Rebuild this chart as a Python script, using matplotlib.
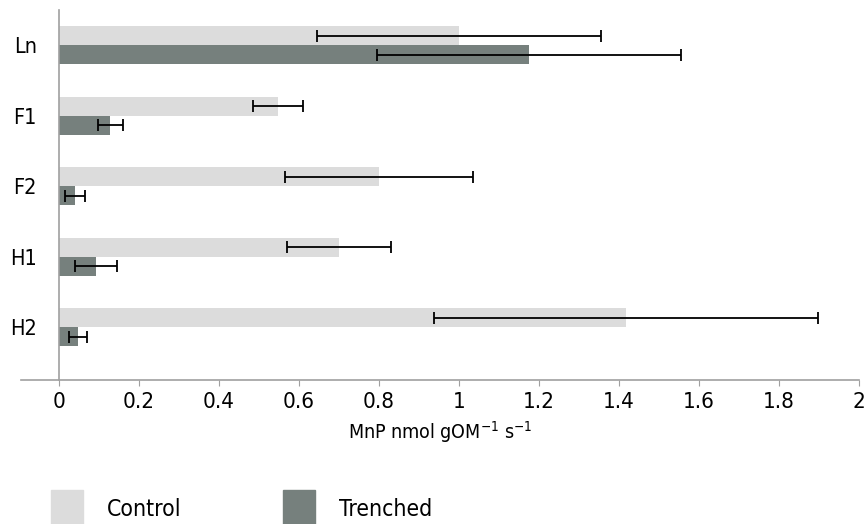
import matplotlib
matplotlib.use("Agg")
import matplotlib.pyplot as plt
import numpy as np
from matplotlib.patches import Patch

plt.rcParams['font.family'] = ['DejaVu Sans']
plt.rcParams['font.stretch'] = 'condensed'

categories = ["Ln", "F1", "F2", "H1", "H2"]
control = [1.00, 0.548, 0.80, 0.70, 1.418]
control_err = [0.355, 0.063, 0.235, 0.13, 0.48]
trenched = [1.175, 0.128, 0.04, 0.093, 0.048]
trenched_err = [0.38, 0.031, 0.025, 0.052, 0.022]
xticks = [0, 0.2, 0.4, 0.6, 0.8, 1, 1.2, 1.4, 1.6, 1.8, 2]
xticklabels = ["0", "0.2", "0.4", "0.6", "0.8", "1", "1.2", "1.4", "1.6", "1.8", "2"]

c_control = "#dcdcdc"
c_trench = "#76807d"

fig = plt.figure(figsize=(8.68, 5.24), dpi=100)
ax = fig.add_axes([21/868, 1-380/524, (859-21)/868, 370/524])

y = np.arange(len(categories))
h = 0.27
ekw = dict(ecolor="black", elinewidth=1.3, capsize=4, capthick=1.3)
ax.barh(y - h/2, control, height=h, color=c_control, xerr=control_err, error_kw=ekw, label="Control")
ax.barh(y + h/2, trenched, height=h, color=c_trench, xerr=trenched_err, error_kw=ekw, label="Trenched")

ax.set_ylim(4.75, -0.5)
ax.set_xlim(-0.095, 2.0)
ax.set_xticks(xticks)
ax.set_xticklabels(xticklabels)
ax.set_yticks(y)
ax.set_yticklabels(categories)

for s in ["top", "right"]:
    ax.spines[s].set_visible(False)
ax.spines["left"].set_position(("data", 0))
ax.spines["left"].set_color("#a0a0a0")
ax.spines["bottom"].set_color("#a0a0a0")
ax.spines["left"].set_linewidth(1.2)
ax.spines["bottom"].set_linewidth(1.2)
ax.tick_params(axis="y", length=0, labelsize=15.5, pad=16)
ax.tick_params(axis="x", length=4, color="#a0a0a0", labelsize=16, pad=5)
ax.set_xlabel("MnP nmol gOM$^{-1}$ s$^{-1}$", fontsize=14, labelpad=5)

handles = [Patch(color=c_control, label="Control"), Patch(color=c_trench, label="Trenched")]
fig.legend(handles=handles, loc="upper left", bbox_to_anchor=(51/868, 1-490/524), ncol=2,
           frameon=False, fontsize=16.5, handlelength=1.38, handleheight=2.1,
           columnspacing=4.45, handletextpad=1.05, borderpad=0, borderaxespad=0)

fig.savefig("out.png", dpi=100)
